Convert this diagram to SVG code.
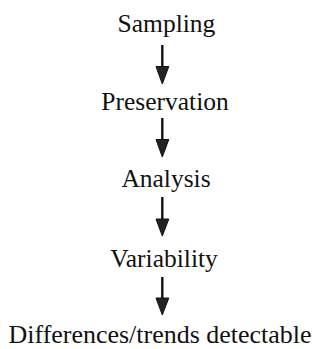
<svg xmlns="http://www.w3.org/2000/svg" width="322" height="349" viewBox="0 0 322 349">
<style>
.t{font-family:"Liberation Serif","Times New Roman",serif;font-size:25.5px;fill:#111;text-anchor:middle}
.s{stroke:#111;stroke-width:2.4;fill:none}
.h{fill:#222;stroke:#111;stroke-width:1}
</style>
<rect width="322" height="349" fill="#fff"/>
<g id="sampling"><text class="t" x="166.5" y="32">Sampling</text></g>
<g id="preservation"><text class="t" x="165" y="110">Preservation</text></g>
<g id="analysis"><text class="t" x="166" y="187">Analysis</text></g>
<g id="variability"><text class="t" x="164" y="266.5">Variability</text></g>
<g id="differences"><text class="t" x="160" y="343" textLength="303" lengthAdjust="spacingAndGlyphs">Differences/trends detectable</text></g>
<g id="connectors">
<line class="s" x1="162.3" y1="45" x2="162.3" y2="68"/>
<polygon class="h" points="156,66.5 168.8,66.5 162.3,84"/>
<line class="s" x1="162.3" y1="118" x2="162.3" y2="141"/>
<polygon class="h" points="156,139.5 168.8,139.5 162.3,157"/>
<line class="s" x1="162.3" y1="197" x2="162.3" y2="221"/>
<polygon class="h" points="156,219 168.8,219 162.3,236"/>
<line class="s" x1="162.3" y1="277" x2="162.3" y2="300"/>
<polygon class="h" points="156,298 168.8,298 162.3,315"/>
</g>
</svg>
